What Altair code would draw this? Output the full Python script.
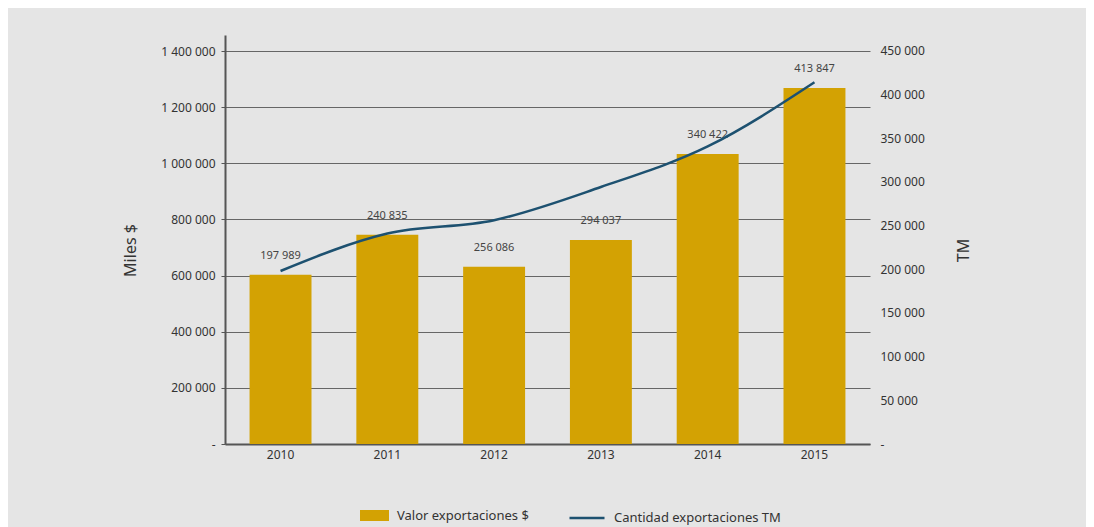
import altair as alt
import pandas as pd

years = ["2010", "2011", "2012", "2013", "2014", "2015"]
valor = [603000, 745000, 631000, 727000, 1033000, 1268000]
cantidad = [197989, 240835, 256086, 294037, 340422, 413847]
left_ticks = [0, 200000, 400000, 600000, 800000, 1000000, 1200000, 1400000]
right_ticks = [0, 50000, 100000, 150000, 200000, 250000, 300000, 350000, 400000, 450000]
serie_bar = "Valor exportaciones $"
serie_line = "Cantidad exportaciones TM"

GOLD = "#D3A203"
BLUE = "#1D5170"
FONT = "Noto Sans"

df = pd.DataFrame({"year": years, "valor": valor, "cantidad": cantidad})
df["serie_b"] = serie_bar
df["serie_l"] = serie_line

fmt = "datum.value == 0 ? '-' : replace(replace(format(datum.value, ','), ',', ' '), ',', ' ')"

x_enc = alt.X(
    "year:N",
    scale=alt.Scale(paddingInner=0.42, paddingOuter=0.23),
    axis=alt.Axis(title=None, labelAngle=0, ticks=False, domainColor="#555555",
                  domainWidth=2, labelPadding=5, labelFontSize=12,
                  labelColor="#333333", grid=False, labelFont=FONT),
)

y_left = alt.Y(
    "valor:Q",
    scale=alt.Scale(domain=[0, 1457000], nice=False, zero=True),
    axis=alt.Axis(title="Miles $", values=left_ticks, labelExpr=fmt, grid=True,
                  gridColor="#666666", gridWidth=1, tickSize=4, tickColor="#555555",
                  domainColor="#555555", domainWidth=2, labelPadding=6,
                  labelFontSize=12, labelColor="#333333", labelFont=FONT,
                  titleFontSize=16, titleFontWeight="normal", titleColor="#333333",
                  titleFont=FONT, titleAngle=-90, titleX=-95, titleY=215,
                  titleAlign="center", titleBaseline="middle"),
)

bars = alt.Chart(df).mark_bar().encode(
    x=x_enc,
    y=y_left,
    fill=alt.Fill("serie_b:N", scale=alt.Scale(domain=[serie_bar], range=[GOLD]),
                  legend=alt.Legend(title=None, orient="none", legendX=135, legendY=466,
                                    symbolType="M-1,-0.38H1V0.38H-1Z", symbolSize=841,
                                    symbolStrokeWidth=0, labelFontSize=13,
                                    labelColor="#333333", labelFont=FONT, labelLimit=400,
                                    labelOffset=8, padding=0)),
)

text = alt.Chart(df).transform_calculate(
    lbl="replace(format(datum.cantidad, ','), ',', ' ')"
).mark_text(dy=-14, fontSize=11, color="#444444", font=FONT, baseline="bottom").encode(
    x=alt.X("year:N"),
    y=alt.Y("valor:Q"),
    text="lbl:N",
)

line = alt.Chart(df).mark_line(interpolate="monotone", strokeWidth=2.5).encode(
    x=alt.X("year:N"),
    y=alt.Y("cantidad:Q",
            scale=alt.Scale(domain=[0, 468000], nice=False, zero=True),
            axis=alt.Axis(orient="right", title="TM", values=right_ticks, labelExpr=fmt,
                          grid=False, ticks=False, domain=False, labelPadding=10,
                          labelFontSize=12, labelColor="#333333", labelFont=FONT,
                          titleFontSize=16, titleFontWeight="normal",
                          titleColor="#333333", titleFont=FONT, titleAngle=-90,
                          titleX=93, titleY=215, titleAlign="center",
                          titleBaseline="middle")),
    stroke=alt.Stroke("serie_l:N", scale=alt.Scale(domain=[serie_line], range=[BLUE]),
                      legend=alt.Legend(title=None, orient="none", legendX=343, legendY=464,
                                        symbolType="stroke", symbolSize=1225,
                                        symbolStrokeWidth=2.5, labelFontSize=13,
                                        labelColor="#333333", labelFont=FONT, labelLimit=400,
                                        labelOffset=8, padding=0)),
)

chart = alt.layer(alt.layer(bars, text), line).resolve_scale(
    y="independent", fill="independent", stroke="independent"
).properties(
    width=645, height=409,
    background="#E5E5E5",
    padding={"left": 217, "top": 27, "right": 216, "bottom": 83},
    autosize=alt.AutoSizeParams(type="none"),
).configure_view(stroke=None)

chart.save("out.html", embed_options={"renderer": "svg", "actions": False})
